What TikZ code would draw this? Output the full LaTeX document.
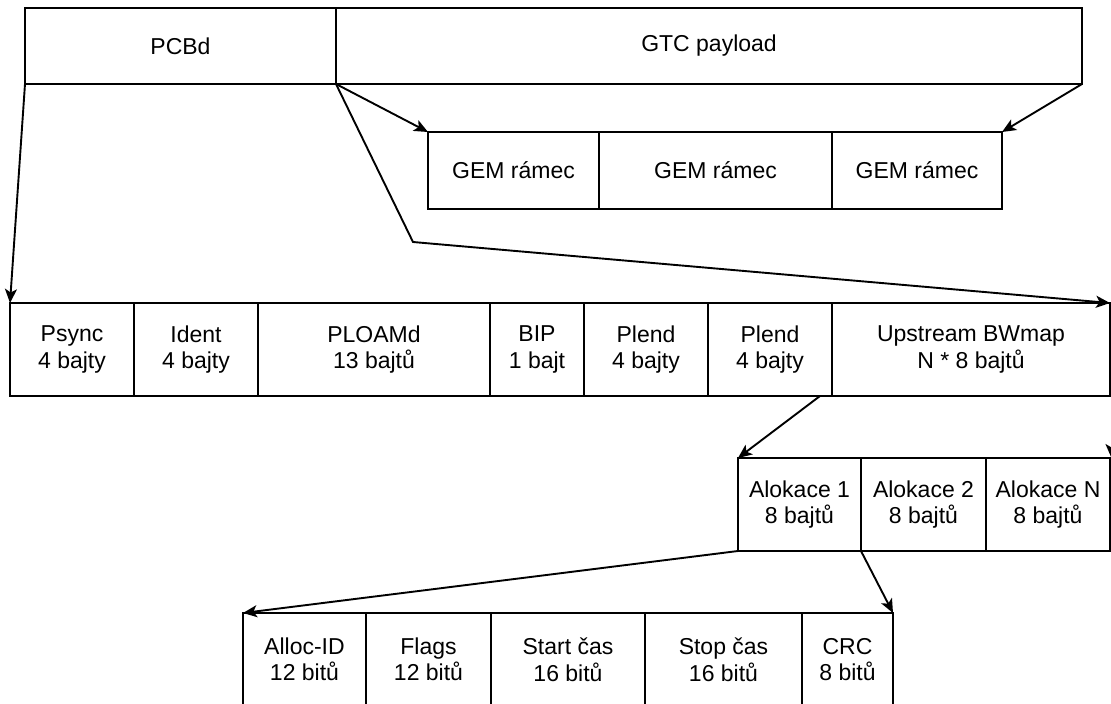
\documentclass[tikz,border=0pt]{standalone}
\usepackage{fontspec}
\setmainfont{Liberation Sans}
\usetikzlibrary{arrows.meta}
\tikzset{
  field/.style={draw, line width=2.8pt, outer sep=0pt, inner sep=0pt,
    anchor=north west, align=center,
    font=\fontsize{23}{26.5}\selectfont},
  tall/.style={field, minimum height=93pt},
  flat/.style={field, minimum height=76pt},
  link/.style={line width=1.9pt, line join=miter,
    -{Stealth[length=14pt, width=12pt, inset=3.5pt]}}
}
\begin{document}
\begin{tikzpicture}[x=1pt, y=-1pt]
\useasboundingbox (0,0) rectangle (1111,704);

% GTC frame header and payload
\node[flat, minimum width=311pt] (pcbd) at (25,8) {PCBd};
\node[flat, minimum width=746pt] (gtc) at (336,8) {GTC payload};

% GEM frames carried in the payload
\node[field, minimum height=77pt, minimum width=171pt] (gem1) at (428,132) {GEM rámec};
\node[field, minimum height=77pt, minimum width=233pt] (gem2) at (599,132) {GEM rámec};
\node[field, minimum height=77pt, minimum width=170pt] (gem3) at (832,132) {GEM rámec};

% PCBd fields
\node[tall, minimum width=124pt] (psync) at (10,303) {Psync\\4 bajty};
\node[tall, minimum width=124pt] (ident) at (134,303) {Ident\\4 bajty};
\node[tall, minimum width=232pt] (ploam) at (258,303) {PLOAMd\\13 bajtů};
\node[tall, minimum width=94pt] (bip) at (490,303) {BIP\\1 bajt};
\node[tall, minimum width=124pt] (plendA) at (584,303) {Plend\\4 bajty};
\node[tall, minimum width=124pt] (plendB) at (708,303) {Plend\\4 bajty};
\node[tall, minimum width=278pt] (bwmap) at (832,303) {Upstream BWmap\\N * 8 bajtů};

% Upstream bandwidth map entries
\node[tall, minimum width=123pt] (al1) at (738,458) {Alokace 1\\8 bajtů};
\node[tall, minimum width=125pt] (al2) at (861,458) {Alokace 2\\8 bajtů};
\node[tall, minimum width=124pt] (alN) at (986,458) {Alokace N\\8 bajtů};

% Fields of one allocation
\node[tall, minimum width=123pt] (allocid) at (243,613) {Alloc-ID\\12 bitů};
\node[tall, minimum width=125pt] (flags) at (366,613) {Flags\\12 bitů};
\node[tall, minimum width=154pt] (start) at (491,613) {Start čas\\16 bitů};
\node[tall, minimum width=157pt] (stop) at (645,613) {Stop čas\\16 bitů};
\node[tall, minimum width=91pt] (crc) at (802,613) {CRC\\8 bitů};

% Expansion connectors
\coordinate (bend) at (413,242);
\coordinate (plendfoot) at (820,396);

\draw[link] (gtc.south west) -- (gem1.north west);
\draw[link] (gtc.south east) -- (gem3.north east);
\draw[link] (pcbd.south west) -- (psync.north west);
\draw[link] (gtc.south west) -- (bend) -- (bwmap.north east);
\draw[link] (plendfoot) -- (al1.north west);
\draw[link] ([xshift=1.5pt]bwmap.south east) -- ([xshift=1.5pt]alN.north east);
\draw[link] (al1.south west) -- (allocid.north west);
\draw[link] (al1.south east) -- (crc.north east);
\end{tikzpicture}
\end{document}
